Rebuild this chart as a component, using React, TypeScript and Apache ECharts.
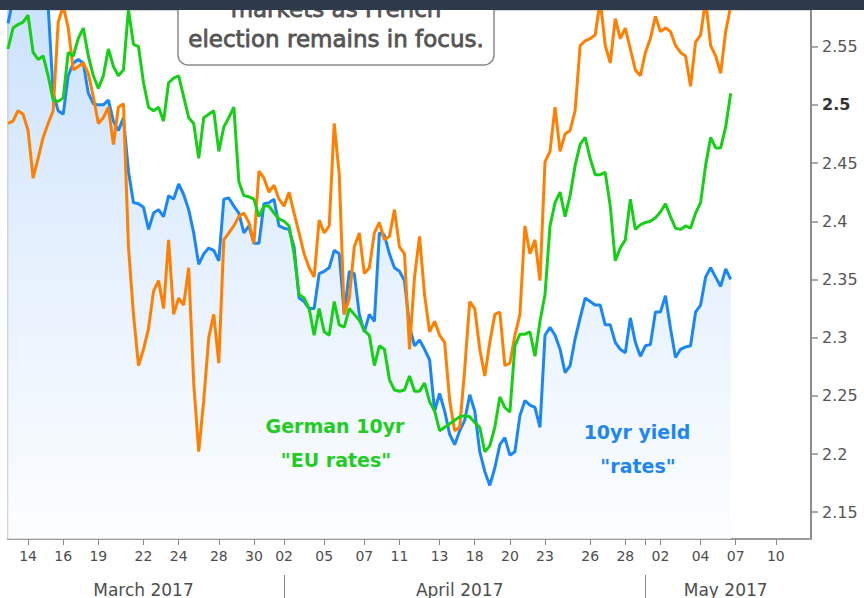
import React, { useEffect, useRef } from 'react';
import * as echarts from 'echarts';

// ---- data (one value per intraday slot) ----
const slotCount = 161;

const dayTickSlots = [4, 11, 18, 27, 34, 42, 49, 55, 63, 71, 78, 86, 93, 100, 107, 116, 123, 130, 138, 145, 153];
const dayTickLabels = ['14', '16', '19', '22', '24', '28', '30', '02', '05', '07', '11', '13', '18', '20', '23', '26', '28', '02', '04', '07', '10'];
const monthLabelSlots = [27, 90, 143];
const monthLabels = ['March 2017', 'April 2017', 'May 2017'];
const monthBoundarySlots = [55, 127];

const yTickValues = [2.15, 2.2, 2.25, 2.3, 2.35, 2.4, 2.45, 2.5, 2.55];
const yMin = 2.127;
const yMax = 2.5815;

// 10yr yield "rates" (blue)
const ratesYield = [
  2.570, 2.590, 2.600, 2.600, 2.600, 2.600, 2.595, 2.590, 2.585, 2.510,
  2.495, 2.492, 2.525, 2.536, 2.539, 2.536, 2.510, 2.501, 2.500, 2.500,
  2.504, 2.486, 2.478, 2.489, 2.443, 2.416, 2.415, 2.412, 2.393, 2.407,
  2.410, 2.404, 2.422, 2.419, 2.432, 2.423, 2.410, 2.390, 2.363, 2.372,
  2.377, 2.375, 2.366, 2.419, 2.420, 2.413, 2.407, 2.390, 2.396, 2.381,
  2.381, 2.415, 2.416, 2.419, 2.396, 2.394, 2.393, 2.378, 2.334, 2.331,
  2.325, 2.325, 2.355, 2.357, 2.360, 2.375, 2.372, 2.320, 2.357, 2.355,
  2.320, 2.305, 2.320, 2.314, 2.390, 2.388, 2.372, 2.360, 2.357, 2.349,
  2.310, 2.293, 2.298, 2.290, 2.281, 2.237, 2.252, 2.237, 2.217, 2.208,
  2.220, 2.229, 2.251, 2.237, 2.202, 2.185, 2.173, 2.188, 2.208, 2.214,
  2.199, 2.202, 2.233, 2.246, 2.242, 2.240, 2.223, 2.302, 2.309, 2.302,
  2.290, 2.270, 2.276, 2.299, 2.317, 2.334, 2.331, 2.328, 2.328, 2.311,
  2.311, 2.296, 2.290, 2.287, 2.317, 2.296, 2.284, 2.293, 2.294, 2.322,
  2.322, 2.336, 2.308, 2.283, 2.290, 2.292, 2.293, 2.322, 2.328, 2.352,
  2.360, 2.352, 2.344, 2.359, 2.350,
];

// German 10yr "EU rates" (green)
const germanYield = [
  2.548, 2.566, 2.569, 2.571, 2.577, 2.545, 2.539, 2.542, 2.525, 2.504,
  2.503, 2.506, 2.545, 2.542, 2.557, 2.566, 2.542, 2.525, 2.514, 2.525,
  2.548, 2.533, 2.525, 2.530, 2.582, 2.552, 2.550, 2.519, 2.498, 2.495,
  2.498, 2.486, 2.519, 2.523, 2.525, 2.507, 2.489, 2.484, 2.454, 2.489,
  2.492, 2.495, 2.460, 2.481, 2.489, 2.498, 2.434, 2.422, 2.421, 2.419,
  2.404, 2.413, 2.413, 2.407, 2.402, 2.400, 2.396, 2.372, 2.337, 2.334,
  2.325, 2.302, 2.325, 2.305, 2.302, 2.331, 2.311, 2.309, 2.325, 2.320,
  2.315, 2.306, 2.302, 2.276, 2.293, 2.290, 2.264, 2.255, 2.254, 2.255,
  2.267, 2.254, 2.254, 2.261, 2.245, 2.237, 2.220, 2.223, 2.226, 2.229,
  2.232, 2.233, 2.232, 2.227, 2.223, 2.202, 2.207, 2.223, 2.249, 2.240,
  2.236, 2.293, 2.303, 2.303, 2.305, 2.284, 2.314, 2.337, 2.396, 2.416,
  2.425, 2.404, 2.422, 2.448, 2.466, 2.472, 2.454, 2.440, 2.440, 2.442,
  2.413, 2.366, 2.377, 2.384, 2.419, 2.393, 2.397, 2.399, 2.400, 2.403,
  2.408, 2.415, 2.404, 2.394, 2.393, 2.396, 2.394, 2.407, 2.416, 2.448,
  2.472, 2.463, 2.463, 2.481, 2.510,
];

// third (orange) series
const orangeSeries = [
  2.484, 2.486, 2.495, 2.492, 2.478, 2.437, 2.454, 2.472, 2.484, 2.495,
  2.571, 2.585, 2.566, 2.530, 2.533, 2.536, 2.527, 2.507, 2.484, 2.489,
  2.498, 2.466, 2.498, 2.501, 2.378, 2.320, 2.276, 2.290, 2.308, 2.340,
  2.349, 2.325, 2.384, 2.320, 2.334, 2.328, 2.360, 2.261, 2.202, 2.246,
  2.300, 2.320, 2.278, 2.384, 2.390, 2.396, 2.404, 2.407, 2.399, 2.381,
  2.443, 2.437, 2.425, 2.431, 2.419, 2.413, 2.425, 2.407, 2.390, 2.372,
  2.360, 2.352, 2.401, 2.390, 2.396, 2.484, 2.440, 2.320, 2.334, 2.378,
  2.390, 2.355, 2.360, 2.390, 2.399, 2.384, 2.387, 2.410, 2.378, 2.372,
  2.290, 2.352, 2.387, 2.337, 2.305, 2.314, 2.302, 2.296, 2.246, 2.220,
  2.223, 2.273, 2.331, 2.325, 2.290, 2.267, 2.296, 2.320, 2.322, 2.276,
  2.278, 2.302, 2.320, 2.396, 2.372, 2.384, 2.349, 2.451, 2.460, 2.498,
  2.460, 2.475, 2.478, 2.495, 2.551, 2.555, 2.557, 2.560, 2.590, 2.551,
  2.536, 2.574, 2.557, 2.566, 2.548, 2.530, 2.525, 2.545, 2.557, 2.576,
  2.563, 2.566, 2.563, 2.551, 2.545, 2.542, 2.516, 2.554, 2.560, 2.590,
  2.551, 2.542, 2.527, 2.563, 2.585,
];

const annotationGerman = ['German 10yr', '"EU rates"'];
const annotationRates = ['10yr yield', '"rates"'];
const calloutLines = ['markets as French', 'election remains in focus.'];

const FONT = "'DejaVu Sans', Verdana, sans-serif";

export default function App() {
  const ref = useRef<HTMLDivElement>(null);

  useEffect(() => {
    if (!ref.current) return;
    const chart = echarts.init(ref.current, undefined, { renderer: 'svg' });

    const slots = Array.from({ length: slotCount }, (_, i) => String(i));
    const dayMap: Record<number, string> = {};
    dayTickSlots.forEach((s, i) => (dayMap[s] = dayTickLabels[i]));
    const monthMap: Record<number, string> = {};
    monthLabelSlots.forEach((s, i) => (monthMap[s] = monthLabels[i]));
    const boundarySet = new Set(monthBoundarySlots);

    const option: any = {
      animation: false,
      backgroundColor: '#ffffff',
      grid: {
        left: 8,
        right: 53,
        top: 10,
        bottom: 58,
        show: true,
        borderColor: '#a8a8a8',
        borderWidth: 1,
        backgroundColor: '#ffffff',
      },
      xAxis: [
        {
          type: 'category',
          data: slots,
          boundaryGap: false,
          position: 'bottom',
          axisLine: { show: true, lineStyle: { color: '#9a9a9a', width: 2 } },
          axisTick: {
            show: true,
            length: 6,
            interval: (i: number) => dayMap[i] !== undefined || boundarySet.has(i),
            lineStyle: { color: '#8a8a8a', width: 1 },
          },
          axisLabel: {
            interval: (i: number) => dayMap[i] !== undefined,
            formatter: (_v: string, i: number) => dayMap[i] ?? '',
            color: '#4d4d4d',
            fontSize: 14,
            fontFamily: FONT,
            margin: 10,
          },
          splitLine: { show: false },
        },
        {
          type: 'category',
          data: slots,
          boundaryGap: false,
          position: 'bottom',
          offset: 36,
          axisLine: { show: false },
          axisTick: {
            show: true,
            length: 23,
            interval: (i: number) => boundarySet.has(i),
            lineStyle: { color: '#8a8a8a', width: 1 },
          },
          axisLabel: {
            interval: (i: number) => monthMap[i] !== undefined,
            formatter: (_v: string, i: number) => monthMap[i] ?? '',
            color: '#4d4d4d',
            fontSize: 17,
            fontFamily: FONT,
            margin: 6,
          },
          splitLine: { show: false },
        },
      ],
      yAxis: {
        type: 'value',
        position: 'right',
        min: yMin,
        max: yMax,
        splitLine: { show: false },
        axisLine: { show: true, lineStyle: { color: '#8c8c8c', width: 2 } },
        axisTick: {
          show: true,
          customValues: yTickValues,
          length: 7,
          lineStyle: { color: '#8c8c8c', width: 1.5 },
        },
        axisLabel: {
          customValues: yTickValues,
          formatter: (v: number) => (Math.abs(v - 2.5) < 1e-6 ? '{b|2.5}' : String(v)),
          color: '#555555',
          fontSize: 16,
          fontFamily: FONT,
          margin: 11,
          rich: { b: { fontWeight: 'bold', color: '#333333', fontSize: 16, fontFamily: FONT } },
        },
      },
      series: [
        {
          type: 'line',
          name: '10yr yield',
          data: ratesYield,
          xAxisIndex: 0,
          symbol: 'none',
          clip: true,
          z: 2,
          lineStyle: { color: '#1a87f5', width: 3 },
          areaStyle: {
            origin: 'start',
            color: new echarts.graphic.LinearGradient(0, 0, 0, 1, [
              { offset: 0, color: '#b3d5fb' },
              { offset: 0.5, color: '#dcebfd' },
              { offset: 1, color: '#fbfdff' },
            ]),
          },
        },
        {
          type: 'line',
          name: 'orange',
          data: orangeSeries,
          xAxisIndex: 0,
          symbol: 'none',
          clip: true,
          z: 3,
          lineStyle: { color: '#ff8000', width: 3 },
        },
        {
          type: 'line',
          name: 'German 10yr',
          data: germanYield,
          xAxisIndex: 0,
          symbol: 'none',
          clip: true,
          z: 4,
          lineStyle: { color: '#16cf16', width: 3 },
        },
      ],
      graphic: {
        elements: [
          {
            type: 'rect',
            shape: { x: 178, y: -20, width: 316, height: 85, r: 10 },
            style: { fill: '#ffffff', stroke: '#8a8a8a', lineWidth: 1.5 },
            z: 50,
          },
          {
            type: 'text',
            x: 336,
            y: 8.5,
            style: {
              text: calloutLines[0],
              align: 'center',
              verticalAlign: 'middle',
              fontSize: 23,
              fontFamily: FONT,
              fill: '#555555',
              stroke: '#555555',
              lineWidth: 0.8,
            },
            z: 51,
          },
          {
            type: 'text',
            x: 336,
            y: 38.5,
            style: {
              text: calloutLines[1],
              align: 'center',
              verticalAlign: 'middle',
              fontSize: 23,
              fontFamily: FONT,
              fill: '#555555',
              stroke: '#555555',
              lineWidth: 0.8,
            },
            z: 51,
          },
          {
            type: 'rect',
            shape: { x: 0, y: 0, width: 864, height: 10 },
            style: { fill: '#2d3a4c' },
            z: 100,
          },
          {
            type: 'text',
            x: 335,
            y: 426,
            style: { text: annotationGerman[0], align: 'center', verticalAlign: 'middle', fontSize: 19, fontWeight: 'bold', fontFamily: FONT, fill: '#22cc22' },
            z: 60,
          },
          {
            type: 'text',
            x: 336,
            y: 460,
            style: { text: annotationGerman[1], align: 'center', verticalAlign: 'middle', fontSize: 19, fontWeight: 'bold', fontFamily: FONT, fill: '#22cc22' },
            z: 60,
          },
          {
            type: 'text',
            x: 637,
            y: 432,
            style: { text: annotationRates[0], align: 'center', verticalAlign: 'middle', fontSize: 19, fontWeight: 'bold', fontFamily: FONT, fill: '#1e86ef' },
            z: 60,
          },
          {
            type: 'text',
            x: 638,
            y: 466,
            style: { text: annotationRates[1], align: 'center', verticalAlign: 'middle', fontSize: 19, fontWeight: 'bold', fontFamily: FONT, fill: '#1e86ef' },
            z: 60,
          },
        ],
      },
    };

    chart.setOption(option);
    return () => chart.dispose();
  }, []);

  return (
    <div
      ref={ref}
      style={{ position: 'absolute', left: 0, top: 0, width: 864, height: 598, background: '#ffffff' }}
    />
  );
}
